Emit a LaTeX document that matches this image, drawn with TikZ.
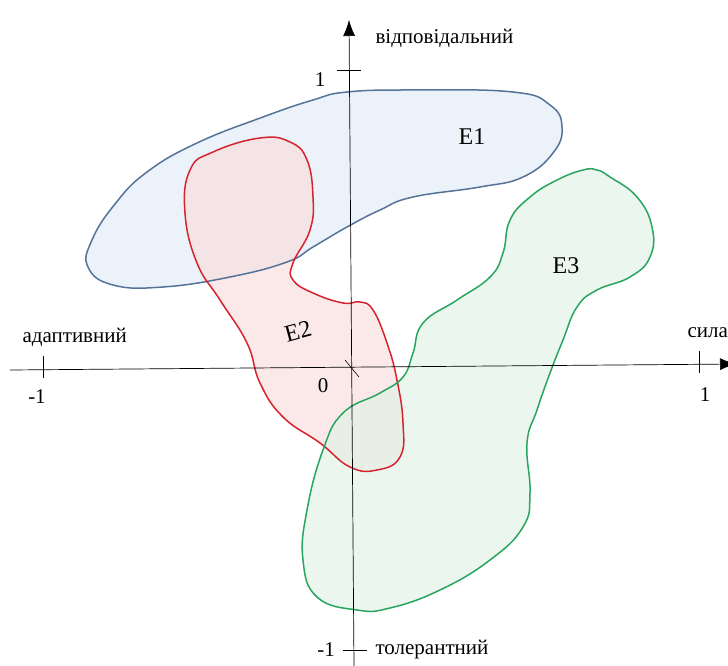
\documentclass[tikz,border=0pt]{standalone}
\usepackage{fontspec}
\setmainfont{Liberation Serif}
\usetikzlibrary{arrows.meta}
\definecolor{eoneline}{RGB}{85,115,150}
\definecolor{eonefill}{RGB}{228,237,248}
\definecolor{etwoline}{RGB}{215,35,45}
\definecolor{etwofill}{RGB}{250,222,222}
\definecolor{ethreeline}{RGB}{40,165,95}
\definecolor{ethreefill}{RGB}{226,242,232}
\newcommand\eoneshape{plot[smooth cycle, tension=0.75] coordinates {
    (347,92) (413,90) (513,92) (550,105) (562,127) (553,153) (523,177) (480,187)
    (413,197) (380,210) (347,227) (313,247) (287,262) (230,277) (163,287) (113,285)
    (88,267) (92,240) (115,204) (147,172) (197,143) (263,117) (313,100)}}
\newcommand\etwoshape{plot[smooth cycle, tension=0.75] coordinates {
    (190,170) (213,152) (260,138) (290,142) (307,160) (313,197) (310,230) (293,263)
    (293,280) (313,293) (343,303) (360,302) (373,310) (387,343) (397,380) (403,423)
    (400,457) (377,470) (350,467) (320,443) (283,417) (260,383) (247,343) (220,300)
    (197,263) (185,213)}}
\newcommand\ethreeshape{plot[smooth cycle, tension=0.75] coordinates {
    (597,170) (610,177) (637,197) (652,227) (650,257) (630,277) (597,290) (577,307)
    (563,340) (550,373) (537,410) (527,443) (530,493) (523,527) (490,560) (440,590)
    (390,608) (357,610) (317,597) (303,560) (307,510) (323,450) (343,413) (380,393)
    (403,377) (413,353) (423,323) (457,300) (490,277) (503,253) (510,220) (530,197)
    (557,180) (583,170)}}
\begin{document}
\begin{tikzpicture}[x=1pt, y=-1pt, every node/.style={font=\fontsize{21}{24}\selectfont},
  blobfill/.style={fill opacity=0.7},
  blobline/.style={line width=1.5pt},
  blobname/.style={font=\fontsize{24}{28}\selectfont},
  tick/.style={line width=0.6pt}]
  \useasboundingbox (0,0) rectangle (728,666);
  % regions: fills first, outlines on top
  \fill[blobfill, eonefill] \eoneshape;
  \fill[blobfill, etwofill] \etwoshape;
  \fill[blobfill, ethreefill] \ethreeshape;
  \draw[blobline, eoneline] \eoneshape;
  \draw[blobline, etwoline] \etwoshape;
  \draw[blobline, ethreeline] \ethreeshape;
  \node[blobname] (E1) at (472,137) {E1};
  \node[blobname, rotate=15] (E2) at (298,331) {E2};
  \node[blobname] (E3) at (566,266) {E3};
  % axes
  \coordinate (xl) at (10,370);
  \coordinate (xr) at (736,364);
  \coordinate (yb) at (354,666);
  \coordinate (yt) at (349,20);
  \draw[line width=0.7pt, -{Latex[length=16pt,width=12pt]}] (xl) -- (xr);
  \draw[line width=0.7pt, -{Latex[length=16pt,width=12pt]}] (yb) -- (yt);
  \draw[tick] (43,356) -- (43,378);
  \draw[tick] (699,351) -- (699,373);
  \draw[tick] (337,70) -- (361,70);
  \draw[tick] (343,650) -- (367,650);
  \draw[tick] (345,360) -- (359,377);
  \node (xm) at (37,397) {-1};
  \node (xp) at (705,395) {1};
  \node (yp) at (320,80) {1};
  \node (ym) at (326,650) {-1};
  \node (o) at (323,386) {0};
  \node[anchor=west] (top) at (372,38) {відповідальний};
  \node[anchor=west] (bot) at (372,650) {толерантний};
  \node[anchor=west] (left) at (19,337) {адаптивний};
  \node[anchor=west] (right) at (684,333) {сила};
\end{tikzpicture}
\end{document}
